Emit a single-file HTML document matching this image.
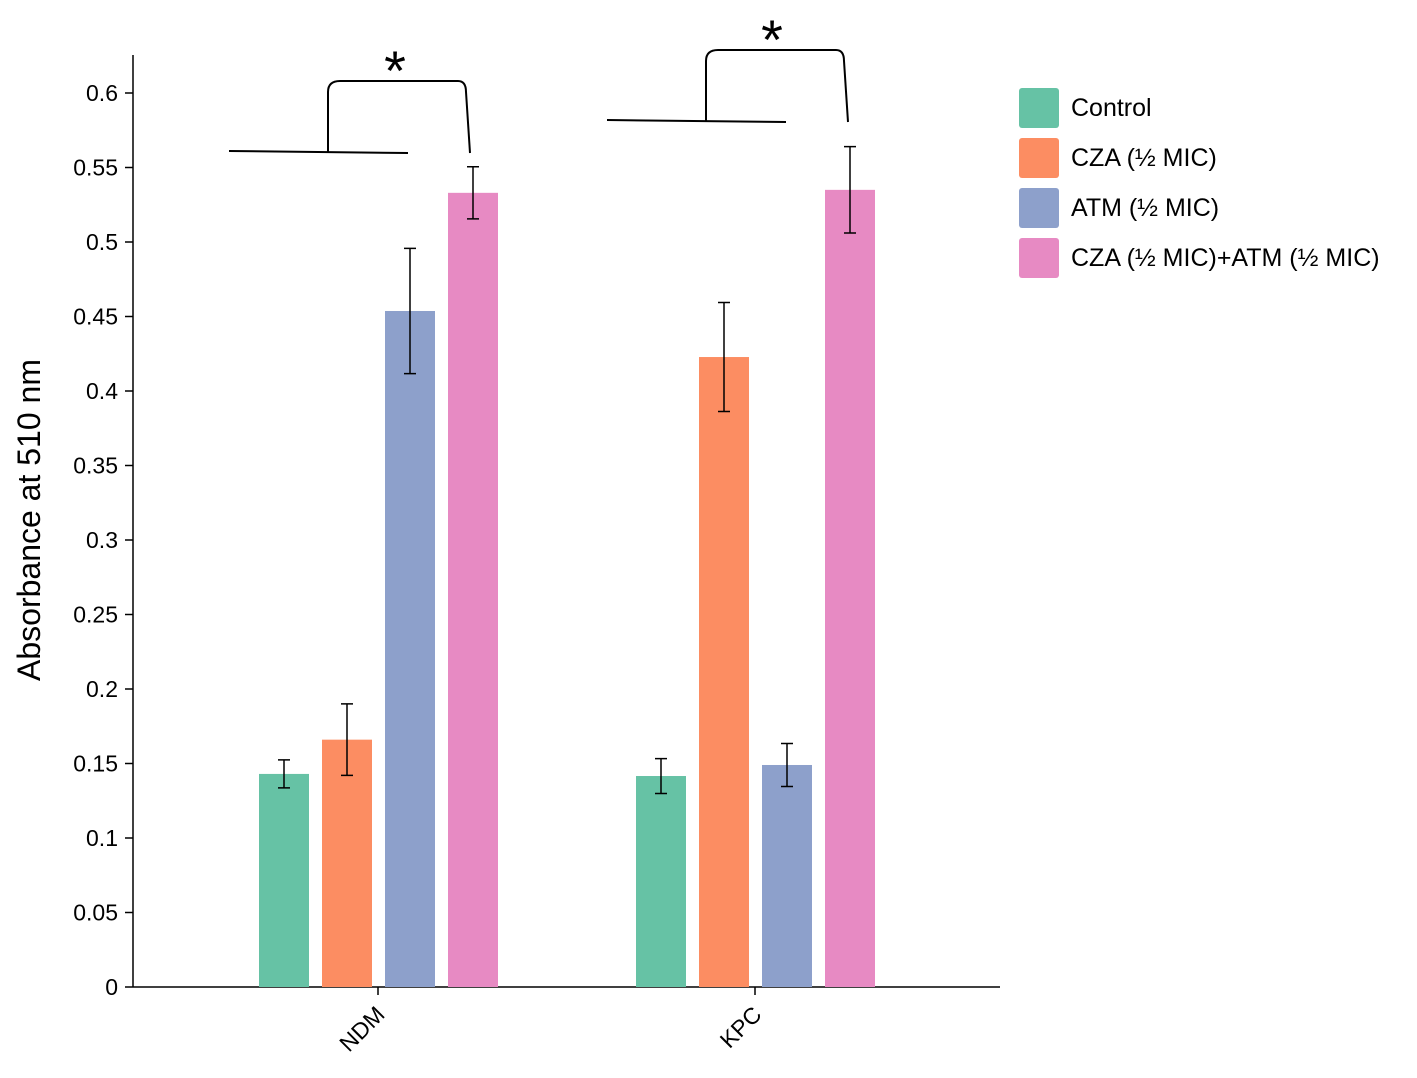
<!DOCTYPE html>
<html><head><meta charset="utf-8"><style>
body{margin:0;background:#fff;font-family:"Liberation Sans",sans-serif}
svg text{font-family:"Liberation Sans",sans-serif}
</style></head><body>
<svg width="1417" height="1073" viewBox="0 0 1417 1073">
<g id="ax"></g>
<g id="bars"></g>
<g id="sig" fill="none" stroke="#000" stroke-width="2">
<path d="M229 151 L408 153"/><path d="M328 152 L328 92 Q328 81 340 81 L458 81 Q466 81 466 92 L470 153"/>
<path d="M607 120 L786 122"/><path d="M706 121 L706 61 Q706 50 718 50 L836 50 Q844 50 844 61 L848 122"/>
</g>
<text x="395" y="90" font-size="56" text-anchor="middle">*</text>
<text x="772" y="59" font-size="56" text-anchor="middle">*</text>
<text transform="translate(40,520) rotate(-90)" font-size="32" text-anchor="middle">Absorbance at 510 nm</text>
<g id="legend"></g>
</svg>
<script>
const categories=["NDM","KPC"];
const seriesNames=["Control","CZA (½ MIC)","ATM (½ MIC)","CZA (½ MIC)+ATM (½ MIC)"];
const colors=["#66c2a5","#fc8d62","#8da0cb","#e78ac3"];
const means=[[0.143,0.1416],[0.166,0.4228],[0.4537,0.149],[0.533,0.535]];
const errs=[[0.0094,0.0117],[0.024,0.0366],[0.042,0.0144],[0.0175,0.029]];
const yTicks=[0,0.05,0.1,0.15,0.2,0.25,0.3,0.35,0.4,0.45,0.5,0.55,0.6];
const tickLabels=["0","0.05","0.1","0.15","0.2","0.25","0.3","0.35","0.4","0.45","0.5","0.55","0.6"];
const NS="http://www.w3.org/2000/svg";
const y=v=>987-v*1490;
const catX=i=>378+i*377;
function mk(p,t,a){const e=document.createElementNS(NS,t);for(const k in a)e.setAttribute(k,a[k]);p.appendChild(e);return e;}
const ax=document.getElementById('ax');
let l=mk(ax,'line',{x1:133,y1:55,x2:133,y2:987,stroke:'#000','stroke-width':1.5});


l=mk(ax,'line',{x1:133,y1:987,x2:1000,y2:987,stroke:'#000','stroke-width':1.5});


yTicks.forEach((v,i)=>{
 const t=mk(ax,'line',{x1:125,x2:133,y1:y(v),y2:y(v),stroke:'#000','stroke-width':1.5});
 
 
 const tx=mk(ax,'text',{x:118,y:y(v)+8,'font-size':23,'text-anchor':'end'});tx.textContent=tickLabels[i];
 
 
});
categories.forEach((c,i)=>{
 const t=mk(ax,'line',{x1:catX(i),x2:catX(i),y1:987,y2:995,stroke:'#000','stroke-width':1.5});
 
 
 const tx=mk(ax,'text',{transform:`translate(${catX(i)+8},1016) rotate(-45)`,'font-size':23,'text-anchor':'end'});tx.textContent=c;
 
 
});
const bars=document.getElementById('bars');
seriesNames.forEach((s,si)=>{
 categories.forEach((c,ci)=>{
  const x0=catX(ci)-119+si*63, v=means[si][ci], e=errs[si][ci];
  const r=mk(bars,'rect',{x:x0,y:y(v),width:50,height:987-y(v),fill:colors[si]});
  
  
  const cx=x0+25;
  const g=mk(bars,'path',{d:`M${cx-6} ${y(v+e)}H${cx+6}M${cx} ${y(v+e)}V${y(v-e)}M${cx-6} ${y(v-e)}H${cx+6}`,stroke:'#000','stroke-width':1.5,fill:'none'});
  
  
 });
});
const lg=document.getElementById('legend');
seriesNames.forEach((s,i)=>{
 const r=mk(lg,'rect',{x:1019,y:88+i*50,width:40,height:40,rx:3,fill:colors[i]});
 
 
 const t=mk(lg,'text',{x:1071,y:116+i*50,'font-size':25});t.textContent=s;
 
 
});
</script>
</body></html>
